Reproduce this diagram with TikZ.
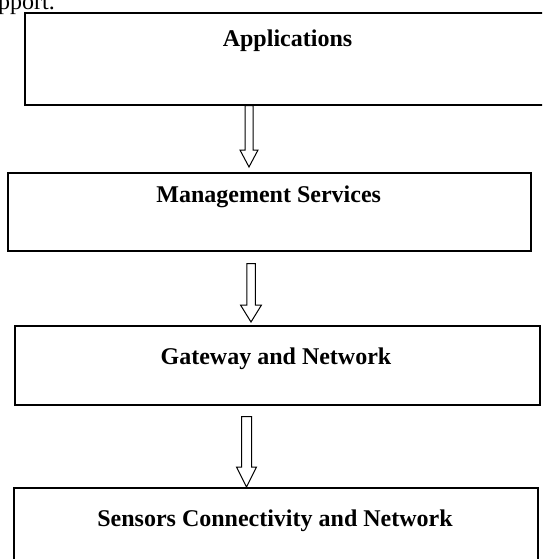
\documentclass[tikz,border=0pt]{standalone}
\usepackage{fontspec}
\setmainfont{Liberation Serif}
\usetikzlibrary{calc}
\newcommand\hollowarrow[5]{%
  \path[blockarrow] let \p1=#1, \p2=#2 in
    (\x1-#3,\y1) -- (\x1-#3,\y2+#5) -- (\x1-#4,\y2+#5) -- (\x1,\y2)
    -- (\x1+#4,\y2+#5) -- (\x1+#3,\y2+#5) -- (\x1+#3,\y1) -- cycle;}
\begin{document}
\begin{tikzpicture}[x=1pt,y=-1pt,
  layerbox/.style={draw=black, line width=1.6pt, rectangle, inner sep=0pt, anchor=north west},
  layertext/.style={font=\fontsize{24}{28}\selectfont\bfseries, inner sep=0pt, anchor=base},
  bodytext/.style={font=\fontsize{24}{28}\selectfont, inner sep=0pt, anchor=base east},
  blockarrow/.style={draw=black, line width=1pt, line join=miter}]
\useasboundingbox (0,0) rectangle (542,559);
\fill[white] (0,0) rectangle (542,559);
\clip (0,0) rectangle (542,559);
% fragment of running text above the figure
\node[bodytext] (frag) at (55,9.5) {pport.};
% layer boxes
\node[layerbox, minimum width=527pt, minimum height=92pt] (app)  at (24,12)  {};
\node[layerbox, minimum width=523pt, minimum height=78pt] (mgmt) at (7,172)  {};
\node[layerbox, minimum width=525pt, minimum height=79pt] (gw)   at (14,325) {};
\node[layerbox, minimum width=524pt, minimum height=80pt] (sens) at (13,487) {};
% labels
\node[layertext] (appt)  at (287.5,46.5) {Applications};
\node[layertext] (mgmtt) at (268.7,202.5) {Management Services};
\node[layertext] (gwt)   at (276,364.5) {Gateway and Network};
\node[layertext] (senst) at (275,526.5) {Sensors Connectivity and Network};
% arrow axes
\coordinate (c1) at (249,0);
\coordinate (c2) at (251,0);
\coordinate (c3) at (246.5,0);
% hollow block arrows
\hollowarrow{(app.south -| c1)}{($(mgmt.north -| c1)+(0,-5)$)}{4pt}{9pt}{17pt}
\hollowarrow{($(mgmt.south -| c2)+(0,12)$)}{($(gw.north -| c2)+(0,-3)$)}{4.25pt}{10.5pt}{17pt}
\hollowarrow{($(gw.south -| c3)+(0,11)$)}{(sens.north -| c3)}{5pt}{10pt}{20pt}
\end{tikzpicture}
\end{document}
